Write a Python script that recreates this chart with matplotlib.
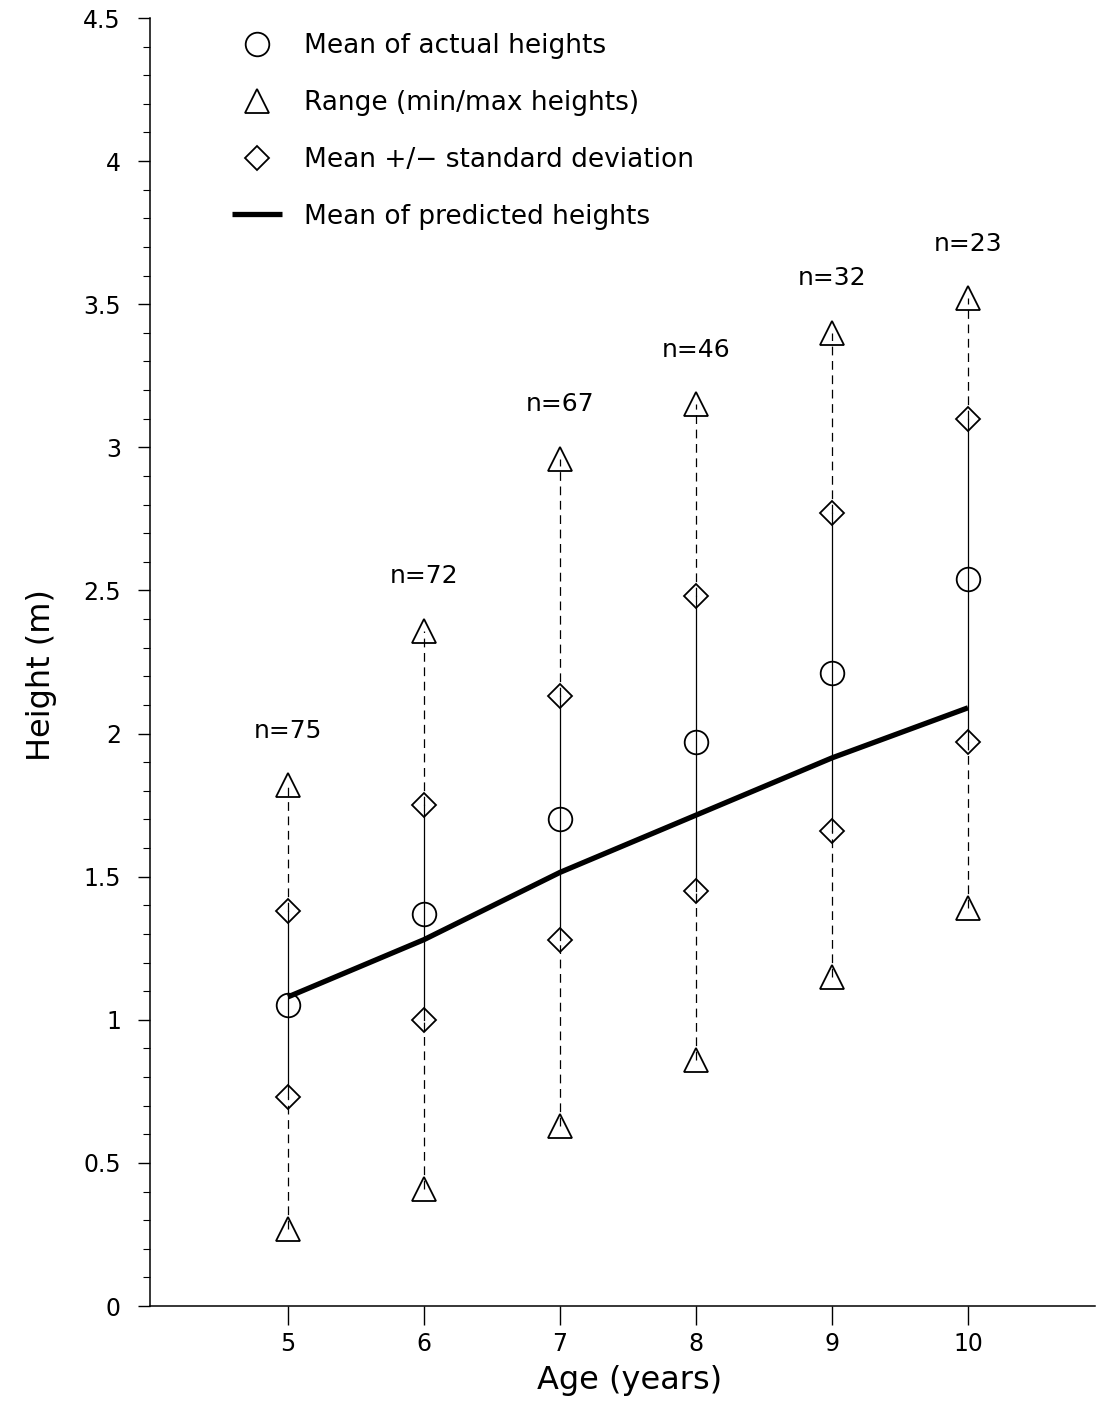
import matplotlib

matplotlib.use("Agg")

import matplotlib.pyplot as plt
from matplotlib.lines import Line2D

plt.rcParams["font.family"] = ["DejaVu Sans"]

# values
ages = [5, 6, 7, 8, 9, 10]
n_trees = [75, 72, 67, 46, 32, 23]
mean_actual = [1.05, 1.37, 1.70, 1.97, 2.21, 2.54]
sd_upper = [1.38, 1.75, 2.13, 2.48, 2.77, 3.10]
sd_lower = [0.73, 1.00, 1.28, 1.45, 1.66, 1.97]
h_max = [1.82, 2.36, 2.96, 3.15, 3.40, 3.52]
h_min = [0.27, 0.41, 0.63, 0.86, 1.15, 1.39]
mean_pred = [1.08, 1.28, 1.515, 1.715, 1.915, 2.09]
y_ticks = [0, 0.5, 1, 1.5, 2, 2.5, 3, 3.5, 4, 4.5]
y_ticklabels = ["0", "0.5", "1", "1.5", "2", "2.5", "3", "3.5", "4", "4.5"]
y_minor = [i / 10 for i in range(46)]

W, H = 1098, 1405
fig = plt.figure(figsize=(W / 100, H / 100), dpi=100)
# axes box in pixel terms: left spine x=150, right end x=1095, y=0 at 1306, y=4.5 at 18
ax = fig.add_axes([150 / W, (H - 1306) / H, (1095 - 150) / W, (1306 - 18) / H])

lw_thin = 0.9
dash = (0, (7, 4.5))
for x, lo, sl, su, hi in zip(ages, h_min, sd_lower, sd_upper, h_max):
    ax.plot([x, x], [lo, sl], color="black", lw=lw_thin, linestyle=dash, zorder=2)
    ax.plot([x, x], [sl, su], color="black", lw=lw_thin, zorder=2)
    ax.plot([x, x], [su, hi], color="black", lw=lw_thin, linestyle=dash, zorder=2)

mk = dict(linestyle="none", markerfacecolor="none", markeredgecolor="black",
          markeredgewidth=1.3, zorder=3)
ax.plot(ages, mean_actual, marker="o", markersize=17, **mk)
ax.plot(ages, h_max, marker="^", markersize=17, **mk)
ax.plot(ages, h_min, marker="^", markersize=17, **mk)
ax.plot(ages, sd_upper, marker="D", markersize=12.5, **mk)
ax.plot(ages, sd_lower, marker="D", markersize=12.5, **mk)
ax.plot(ages, mean_pred, color="black", lw=3.8, solid_capstyle="butt", zorder=4)

for x, hi, n in zip(ages, h_max, n_trees):
    ax.text(x, hi + 0.19, f"n={n}", ha="center", va="center", fontsize=18)

ax.set_xlim(5 - 138 / 136, 5 + 807 / 136)
ax.set_ylim(0, 4.5)
ax.set_xticks(ages)
ax.set_yticks(y_ticks, y_ticklabels)
ax.set_yticks(y_minor, minor=True)
ax.tick_params(axis="x", direction="out", length=14, width=1, labelsize=17, pad=5)
ax.tick_params(axis="y", which="major", direction="out", length=9, width=1,
               labelsize=17, pad=12)
ax.tick_params(axis="y", which="minor", direction="out", length=5, width=0.8)
for side in ("top", "right"):
    ax.spines[side].set_visible(False)
for side in ("left", "bottom"):
    ax.spines[side].set_linewidth(1.1)

ax.set_xlabel("Age (years)", fontsize=23)
ax.set_ylabel("Height (m)", fontsize=23)
ax.xaxis.set_label_coords(0.508, -0.046)
ax.yaxis.set_label_coords(-0.098, 0.49)

handles = [
    Line2D([], [], marker="o", markersize=17, **mk),
    Line2D([], [], marker="^", markersize=17, **mk),
    Line2D([], [], marker="D", markersize=12.5, **mk),
    Line2D([], [], color="black", lw=3.8, solid_capstyle="butt"),
]
labels = [
    "Mean of actual heights",
    "Range (min/max heights)",
    "Mean +/\u2212 standard deviation",
    "Mean of predicted heights",
]
ax.legend(handles, labels, loc="upper left", frameon=False, fontsize=19,
          bbox_to_anchor=(232 / W, 1 - 33 / H), bbox_transform=fig.transFigure,
          borderpad=0, borderaxespad=0, handlelength=1.9, handletextpad=0.82,
          labelspacing=1.17)

fig.savefig("out.png", dpi=100)
